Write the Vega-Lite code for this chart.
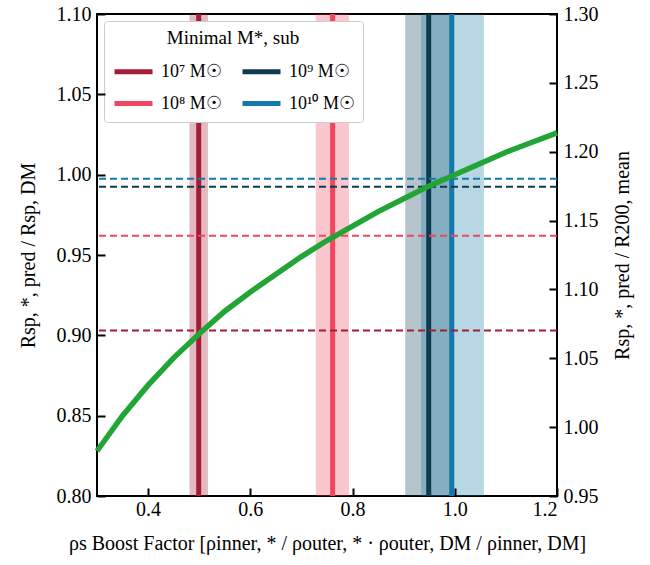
{
  "$schema": "https://vega.github.io/schema/vega-lite/v6.json",
  "width": 460,
  "height": 482,
  "autosize": {"type": "none"},
  "padding": {"left": 97, "top": 14, "right": 93, "bottom": 69},
  "config": {
    "font": "Liberation Serif",
    "view": {"stroke": "black", "strokeWidth": 2},
    "axis": {
      "domain": false,
      "grid": false,
      "labelFont": "Liberation Serif",
      "labelFontSize": 20,
      "labelColor": "black",
      "titleFont": "Liberation Serif",
      "titleFontSize": 20,
      "titleFontWeight": "normal",
      "titleColor": "black"
    },
    "legend": {
      "columnPadding": 10,
      "rowPadding": -9,
      "padding": 8,
      "strokeColor": "#cccccc",
      "fillColor": "white",
      "cornerRadius": 3,
      "titleFont": "Liberation Serif",
      "titleFontSize": 19,
      "titleFontWeight": "normal",
      "titleColor": "black",
      "titleAnchor": "middle",
      "titlePadding": 2,
      "labelFont": "Liberation Serif",
      "labelFontSize": 18,
      "labelColor": "black",
      "labelOffset": 6,
      "symbolStrokeWidth": 5,
      "symbolSize": 1444
    }
  },
  "datasets": {
    "bands": [
      {"mass": "10⁷ M☉", "lo": 0.481, "hi": 0.517, "center": 0.499},
      {"mass": "10⁸ M☉", "lo": 0.728, "hi": 0.793, "center": 0.761},
      {"mass": "10⁹ M☉", "lo": 0.903, "hi": 0.995, "center": 0.949},
      {"mass": "10¹⁰ M☉", "lo": 0.934, "hi": 1.057, "center": 0.994}
    ],
    "hlines": [
      {"mass": "10⁷ M☉", "ratio": 0.903},
      {"mass": "10⁸ M☉", "ratio": 0.962},
      {"mass": "10⁹ M☉", "ratio": 0.9925},
      {"mass": "10¹⁰ M☉", "ratio": 0.9975}
    ],
    "curve": [
      {"boost": 0.30, "ratio": 0.828},
      {"boost": 0.35, "ratio": 0.850},
      {"boost": 0.40, "ratio": 0.869},
      {"boost": 0.45, "ratio": 0.886},
      {"boost": 0.50, "ratio": 0.901},
      {"boost": 0.55, "ratio": 0.915},
      {"boost": 0.60, "ratio": 0.927},
      {"boost": 0.65, "ratio": 0.938},
      {"boost": 0.70, "ratio": 0.949},
      {"boost": 0.75, "ratio": 0.959},
      {"boost": 0.80, "ratio": 0.968},
      {"boost": 0.85, "ratio": 0.977},
      {"boost": 0.90, "ratio": 0.985},
      {"boost": 0.95, "ratio": 0.993},
      {"boost": 1.00, "ratio": 1.000},
      {"boost": 1.05, "ratio": 1.007},
      {"boost": 1.10, "ratio": 1.014},
      {"boost": 1.15, "ratio": 1.020},
      {"boost": 1.20, "ratio": 1.026}
    ],
    "right": [{"r": 0.95}, {"r": 1.30}]
  },
  "layer": [
    {
      "data": {"name": "bands"},
      "mark": {"type": "rect", "opacity": 0.3},
      "encoding": {
        "x": {"field": "lo", "type": "quantitative",
          "scale": {"domain": [0.3, 1.2], "nice": false, "zero": false},
          "axis": {"values": [0.4, 0.6, 0.8, 1.0, 1.2], "format": ".1f",
            "ticks": true, "tickSize": 8, "tickColor": "#000000", "tickWidth": 2, "offset": -8, "zindex": 2,
            "labelPadding": 3, "titlePadding": 14,
            "title": "ρs Boost Factor [ρinner, * / ρouter, * · ρouter, DM / ρinner, DM]"}},
        "x2": {"field": "hi"},
        "fill": {"field": "mass", "type": "nominal", "legend": null,
          "scale": {"domain": ["10¹⁰ M☉", "10⁹ M☉", "10⁸ M☉", "10⁷ M☉"], "range": ["#1479a8", "#0c3b52", "#f0465f", "#a51c36"]}}
      }
    },
    {
      "data": {"name": "bands"},
      "mark": {"type": "rule", "strokeWidth": 5},
      "encoding": {
        "x": {"field": "center", "type": "quantitative"},
        "color": {"field": "mass", "type": "nominal", "title": "Minimal M*, sub",
          "scale": {"domain": ["10⁷ M☉", "10⁸ M☉", "10⁹ M☉", "10¹⁰ M☉"], "range": ["#a51c36", "#f0465f", "#0c3b52", "#1479a8"]},
          "legend": {"orient": "top-left", "offset": 7, "columns": 2, "symbolType": "stroke"}}
      }
    },
    {
      "data": {"name": "hlines"},
      "mark": {"type": "rule", "strokeWidth": 2, "strokeDash": [7, 4]},
      "encoding": {
        "y": {"field": "ratio", "type": "quantitative", "axis": null, "scale": {"domain": [0.8, 1.1], "nice": false, "zero": false}},
        "stroke": {"field": "mass", "type": "nominal", "legend": null,
          "scale": {"domain": ["10⁸ M☉", "10⁷ M☉", "10¹⁰ M☉", "10⁹ M☉"], "range": ["#f0465f", "#a51c36", "#1479a8", "#0c3b52"]}}
      }
    },
    {
      "data": {"name": "curve"},
      "mark": {"type": "line", "color": "#23a437", "strokeWidth": 5.5},
      "encoding": {
        "x": {"field": "boost", "type": "quantitative"},
        "y": {"field": "ratio", "type": "quantitative",
          "scale": {"domain": [0.8, 1.1], "nice": false, "zero": false},
          "axis": {"orient": "left", "values": [0.8, 0.85, 0.9, 0.95, 1.0, 1.05, 1.1], "format": ".2f",
            "ticks": true, "tickSize": 8, "tickColor": "#000000", "tickWidth": 2, "offset": -8, "zindex": 2,
            "labelPadding": 6, "titlePadding": 18,
            "title": "Rsp, *, pred / Rsp, DM"}}
      }
    },
    {
      "data": {"name": "right"},
      "mark": {"type": "point", "opacity": 0},
      "encoding": {
        "y": {"field": "r", "type": "quantitative",
          "scale": {"domain": [0.95, 1.3], "nice": false, "zero": false},
          "axis": {"orient": "right", "values": [0.95, 1.0, 1.05, 1.1, 1.15, 1.2, 1.25, 1.3], "format": ".2f",
            "ticks": true, "tickSize": 8, "tickColor": "#000000", "tickWidth": 2, "offset": -8, "zindex": 2,
            "labelPadding": 6, "titlePadding": 14, "titleAngle": 270, "titleBaseline": "top",
            "title": "Rsp, *, pred / R200, mean"}}
      }
    }
  ],
  "resolve": {"scale": {"y": "independent"}}
}
